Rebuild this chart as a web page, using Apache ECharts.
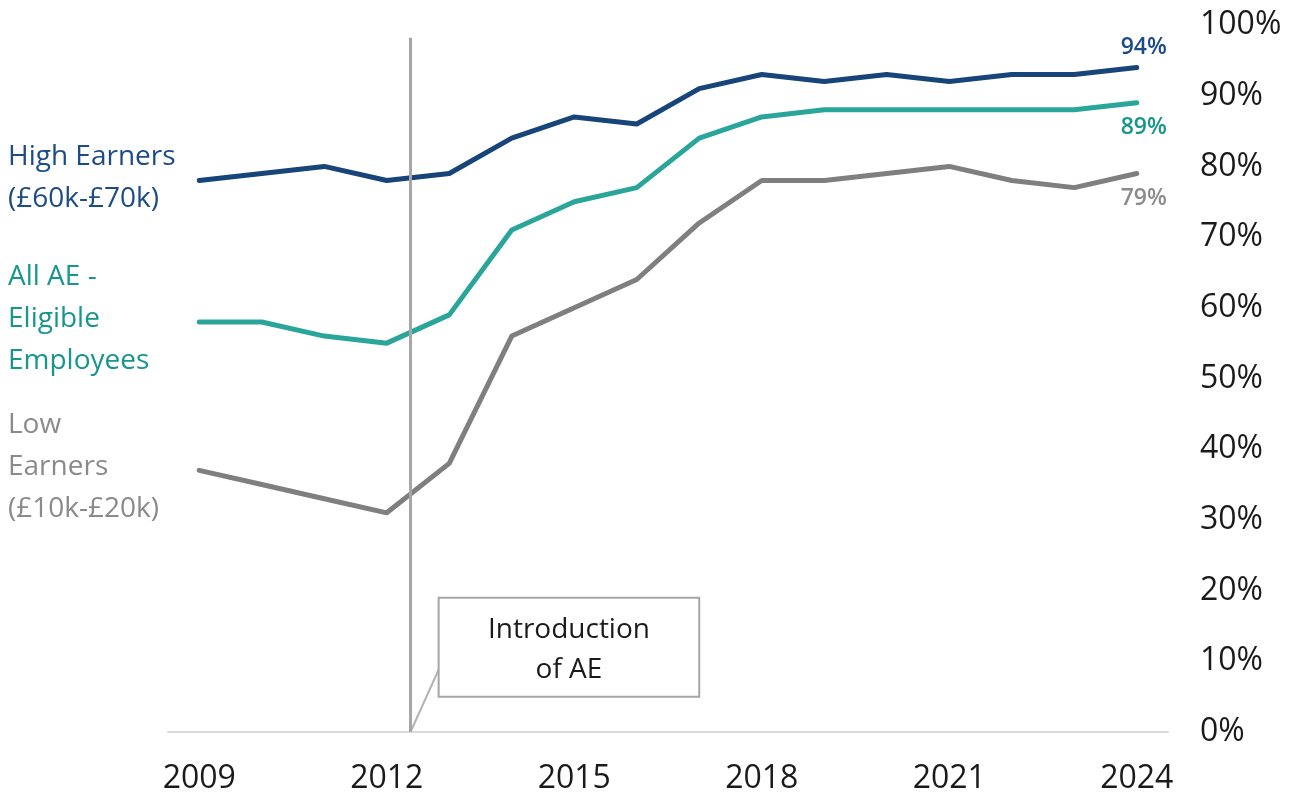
<!DOCTYPE html>
<html>
<head>
<meta charset="utf-8">
<script src="https://cdn.jsdelivr.net/npm/echarts@6/dist/echarts.min.js"></script>
<style>
html, body { margin: 0; padding: 0; background: #fff; }
#chart { width: 1306px; height: 798px; }
</style>
</head>
<body>
<div id="chart"></div>
<script>
// data
var years = [2009, 2010, 2011, 2012, 2013, 2014, 2015, 2016, 2017, 2018, 2019, 2020, 2021, 2022, 2023, 2024];
var highEarners = [78, 79, 80, 78, 79, 84, 87, 86, 91, 93, 92, 93, 92, 93, 93, 94];
var allEligible = [58, 58, 56, 55, 59, 71, 75, 77, 84, 87, 88, 88, 88, 88, 88, 89];
var lowEarners = [37, 35, 33, 31, 38, 56, 60, 64, 72, 78, 78, 79, 80, 78, 77, 79];
var yearTicks = [2009, 2012, 2015, 2018, 2021, 2024];
var aeYear = 2012.38;
var seriesNames = ['High Earners\n(£60k-£70k)', 'All AE -\nEligible\nEmployees', 'Low\nEarners\n(£10k-£20k)'];

var FONT = '"Open Sans"';
var NAVY = '#174479', TEAL = '#2aa59a', GREY = '#7f7f7f';

function pairs(vals) {
    return vals.map(function (v, i) { return [years[i], v]; });
}

function lineSeries(name, vals, color, labelColor, labelPos) {
    var data = pairs(vals);
    var last = data.length - 1;
    data[last] = {
        value: data[last],
        label: {
            show: true,
            position: labelPos,
            distance: labelPos === 'top' ? 8 : 13,
            offset: [7, 0],
            formatter: function (p) { return p.value[1] + '%'; },
            color: labelColor,
            fontFamily: FONT,
            fontSize: 23,
            fontWeight: 600
        }
    };
    return {
        name: name,
        type: 'line',
        data: data,
        showSymbol: true,
        symbol: 'circle',
        symbolSize: 0,
        lineStyle: { color: color, width: 5, cap: 'round', join: 'round' },
        itemStyle: { color: color },
        z: 3,
        animation: false
    };
}

var chart = echarts.init(document.getElementById('chart'));

chart.setOption({
    animation: false,
    grid: { left: 168, right: 138, top: 25, bottom: 66 },
    xAxis: {
        type: 'value',
        min: 2008.5,
        max: 2024.5,
        axisLine: { show: true, lineStyle: { color: '#d9d9d9', width: 2 } },
        axisTick: { show: false },
        splitLine: { show: false },
        axisLabel: {
            customValues: yearTicks,
            formatter: function (v) { return String(v); },
            margin: 31,
            fontFamily: FONT,
            fontSize: 32,
            color: '#1a1a1a'
        }
    },
    yAxis: {
        type: 'value',
        position: 'right',
        min: 0,
        max: 100,
        interval: 10,
        axisLine: { show: false },
        axisTick: { show: false },
        splitLine: { show: false },
        axisLabel: {
            formatter: '{value}%',
            margin: 32,
            fontFamily: FONT,
            fontSize: 32,
            color: '#1a1a1a'
        }
    },
    series: [
        lineSeries(seriesNames[0], highEarners, NAVY, '#1c4c85', 'top'),
        lineSeries(seriesNames[1], allEligible, TEAL, '#17968e', 'bottom'),
        lineSeries(seriesNames[2], lowEarners, GREY, '#8c8c8c', 'bottom'),
        {
            type: 'line',
            data: [],
            markLine: {
                silent: true,
                symbol: 'none',
                label: { show: false },
                lineStyle: { color: '#a6a6a6', width: 3, type: 'solid' },
                data: [[{ coord: [aeYear, 0] }, { coord: [aeYear, 98.2] }]]
            }
        }
    ]
});

// annotations placed through the chart's own scales
function px(x, y) { return chart.convertToPixel({ gridIndex: 0 }, [x, y]); }

var leftColors = ['#1c4c85', '#17968e', '#8a8a8a'];
var firstVals = [highEarners[0], allEligible[0], lowEarners[0]];
var graphics = [];
seriesNames.forEach(function (name, i) {
    var p = px(years[0], firstVals[i]);
    graphics.push({
        type: 'text',
        x: 8,
        y: p[1] - 3,
        style: {
            text: name,
            fill: leftColors[i],
            font: '28px ' + FONT,
            lineHeight: 42,
            textAlign: 'left',
            textVerticalAlign: 'middle'
        }
    });
});

var boxTL = px(2012.83, 19);
var boxBR = px(2017.0, 5);
var leaderTop = px(2012.83, 8.8);
var leaderBottom = px(aeYear, 0);
graphics.push({
    type: 'line',
    shape: { x1: leaderTop[0], y1: leaderTop[1], x2: leaderBottom[0], y2: leaderBottom[1] },
    style: { stroke: '#b3b3b3', lineWidth: 2 }
});
graphics.push({
    type: 'rect',
    shape: { x: boxTL[0], y: boxTL[1], width: boxBR[0] - boxTL[0], height: boxBR[1] - boxTL[1] },
    style: { fill: '#fff', stroke: '#a6a6a6', lineWidth: 2 }
});
graphics.push({
    type: 'text',
    x: (boxTL[0] + boxBR[0]) / 2,
    y: (boxTL[1] + boxBR[1]) / 2 + 3,
    style: {
        text: 'Introduction\nof AE',
        fill: '#1a1a1a',
        font: '28px ' + FONT,
        lineHeight: 40,
        textAlign: 'center',
        textVerticalAlign: 'middle'
    }
});

chart.setOption({ graphic: graphics });
</script>
</body>
</html>
